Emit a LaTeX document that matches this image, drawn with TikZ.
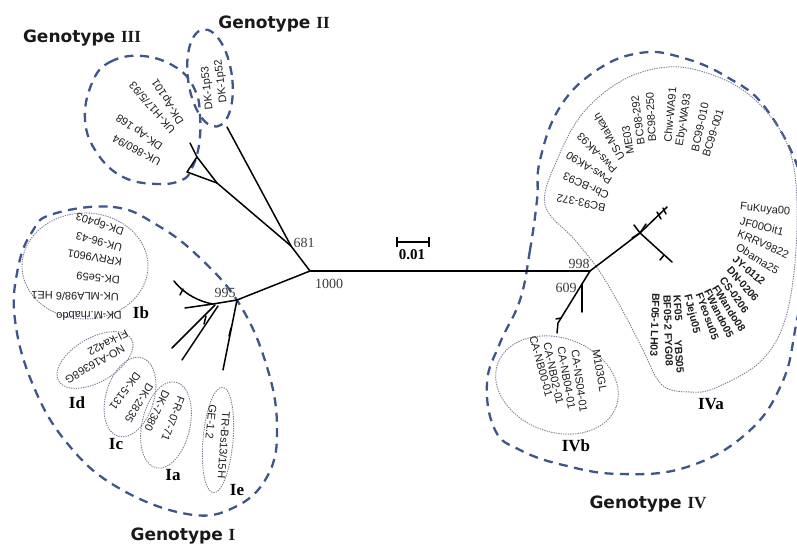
\documentclass[tikz,border=0pt]{standalone}
\usepackage{fontspec}
\setmainfont{Liberation Serif}
\setsansfont{Liberation Sans}
\newfontfamily\genofamily{DejaVu Sans}
\definecolor{dashblue}{RGB}{62,86,140}
\definecolor{dotgray}{RGB}{120,124,150}
\definecolor{bootgray}{RGB}{60,60,60}
\definecolor{tipcol}{RGB}{30,30,30}
\begin{document}
\begin{tikzpicture}[x=1pt,y=-1pt,
  br/.style={line width=1.5pt, line cap=round, line join=round, black},
  gdash/.style={draw=dashblue, line width=2.3pt, dash pattern=on 9pt off 6.5pt},
  sdot/.style={draw=dotgray, line width=0.9pt, dash pattern=on 1.3pt off 1.1pt},
  tip/.style={font=\sffamily\fontsize{11}{12}\selectfont, inner sep=0pt, text=tipcol},
  tipb/.style={font=\sffamily\bfseries\fontsize{10.5}{12}\selectfont, inner sep=0pt, text=tipcol},
  boot/.style={font=\rmfamily\fontsize{14}{16}\selectfont, text=bootgray, inner sep=0pt},
  sub/.style={font=\rmfamily\bfseries\fontsize{17}{19}\selectfont, inner sep=0pt},
  geno/.style={font=\genofamily\bfseries\fontsize{17}{20}\selectfont, inner sep=0pt, text=black!90}
]
\path[use as bounding box] (0,0) rectangle (797,548);
\clip (0,0) rectangle (797,548);

% ---------------- group outlines ----------------
\draw[gdash] plot[smooth cycle, tension=0.7] coordinates {(92,83) (110,62) (143,56) (177,68) (195,90) (200,115) (199,145) (192,168) (182,180) (157,184) (123,177) (97,153) (85,120)};
\draw[gdash, rotate around={8:(210,78)}] (210,78) ellipse [x radius=22pt, y radius=49pt];
\draw[gdash] plot[smooth cycle, tension=0.7] coordinates {(53,214) (113,207) (157,225) (200,258) (240,305) (267,367) (277,427) (268,475) (235,507) (187,514) (117,487) (67,443) (33,385) (15,320) (18,268) (32,232)};
\draw[gdash] plot[smooth cycle, tension=0.7] coordinates {(537,200) (530,250) (520,300) (500,343) (487,383) (495,430) (520,450) (563,465) (620,474) (687,467) (747,433) (782,383) (796,325) (808,250) (802,180) (767,110) (727,77) (680,57) (640,53) (597,70) (560,107) (540,160)};

\draw[sdot] (85,266) ellipse [x radius=63pt, y radius=53pt];
\draw[sdot, rotate around={30:(95,360)}] (95,360) ellipse [x radius=42pt, y radius=22pt];
\draw[sdot, rotate around={-17:(130,397)}] (130,397) ellipse [x radius=24pt, y radius=41pt];
\draw[sdot, rotate around={-13:(166,425)}] (166,425) ellipse [x radius=24pt, y radius=44pt];
\draw[sdot, rotate around={-5:(218,440)}] (218,440) ellipse [x radius=15pt, y radius=53pt];
\draw[sdot, rotate around={-20:(557,385)}] (557,385) ellipse [x radius=63pt, y radius=47pt];
\draw[sdot] plot[smooth cycle, tension=0.6] coordinates {(545,205) (557,160) (583,113) (623,80) (667,67) (707,73) (747,93) (780,130) (795,175) (796,250) (785,320) (760,362) (715,388) (690,392) (662,385) (643,350) (625,315) (600,272) (575,240)};

% ---------------- tree ----------------
\coordinate (root) at (310,271);
\coordinate (n998) at (590,271);
\coordinate (n681) at (291,246);
\coordinate (tII) at (227,127);
\coordinate (n3) at (217,183);
\coordinate (n3b) at (197,157);
\coordinate (t3a) at (190,143);
\coordinate (t3c) at (187,172);
\coordinate (n995) at (237,300);
\coordinate (n1a) at (213,304);
\coordinate (t1a) at (174,281);
\coordinate (t1b) at (185,308);
\coordinate (n1c) at (215,305);
\coordinate (t1c) at (172,348);
\coordinate (n1d) at (218,306);
\coordinate (t1d) at (182,360);
\coordinate (t1e) at (223,370);
\coordinate (n4) at (640,233);
\coordinate (t4a) at (667,207);
\coordinate (t4b) at (672,262);
\coordinate (n609) at (582,284);
\coordinate (t4c) at (558,323);
\coordinate (t4cc) at (557,333);
\coordinate (t4d) at (582,312);

\draw[br] (root) -- (n998);
\draw[br] (root) -- (n681);
\draw[br] (n681) -- (tII);
\draw[br] (n681) -- (n3);
\draw[br] (n3) -- (n3b) -- (t3a);
\draw[br] (n3) -- (t3c) -- (n3b);
\draw[br] (root) -- (n995);
\draw[br] (n995) -- (n1a);
\draw[br] (n1a) .. controls (200,302) and (184,294) .. (t1a);
\draw[br] (n1a) -- (t1b);
\draw[br] (n1c) -- (t1c);
\draw[br] (n1d) -- (t1d);
\draw[br] (n995) -- (t1e);
\coordinate (k1a) at (183,289); \coordinate (k1b) at (180,295);
\draw[br] (k1a) -- (k1b);
\coordinate (k2a) at (204,324); \coordinate (k2b) at (206,316);
\draw[br] (k2a) -- (k2b);
\coordinate (k3a) at (229,336); \coordinate (k3b) at (231,328);
\draw[br] (k3a) -- (k3b);

\draw[br] (n998) -- (n4);
\draw[br] (n4) -- (t4a);
\draw[br] (n4) -- (t4b);
\draw[br] (n998) -- (n609) -- (t4c) -- (t4cc);
\draw[br] (n609) -- (t4d);
\coordinate (k4a) at (634,225); \coordinate (k4b) at (646,224); \coordinate (k4c) at (632,238);
\draw[br] (n4) -- (k4a); \draw[br] (n4) -- (k4b); \draw[br] (n4) -- (k4c);
\coordinate (k5a) at (657,212); \coordinate (k5b) at (661,219);
\draw[br] (k5a) -- (k5b);
\coordinate (k6a) at (663,208); \coordinate (k6b) at (666,214);
\draw[br] (k6a) -- (k6b);
\coordinate (k7a) at (664,255); \coordinate (k7b) at (660,260);
\draw[br] (k7a) -- (k7b);
\coordinate (k8a) at (561,318); \coordinate (k8b) at (556,319);
\draw[br] (k8a) -- (k8b);

% scale bar
\coordinate (sbL) at (397,242); \coordinate (sbR) at (429,242);
\coordinate (sbLt) at (397,237); \coordinate (sbLb) at (397,247);
\coordinate (sbRt) at (429,237); \coordinate (sbRb) at (429,247);
\draw[line width=1.3pt] (sbL) -- (sbR);
\draw[line width=1.3pt] (sbLt) -- (sbLb);
\draw[line width=1.3pt] (sbRt) -- (sbRb);
\node[font=\rmfamily\bfseries\fontsize{15}{17}\selectfont, inner sep=0pt] (scl) at (412,255) {0.01};

% bootstrap values
\node[boot] (b681) at (304,243) {681};
\node[boot] (b1000) at (329,284) {1000};
\node[boot] (b995) at (225,293) {995};
\node[boot] (b998) at (579,264) {998};
\node[boot] (b609) at (566,288) {609};

% ---------------- tip labels ----------------
% Genotype III
\node[tip, anchor=west, rotate=122] (l3a) at (182,123) {DK-Ap101};
\node[tip, anchor=west, rotate=131] (l3b) at (173,132) {UK-H17/5/93};
\node[tip, anchor=west, rotate=145] (l3c) at (162,147) {DK-Ap 168};
\node[tip, anchor=west, rotate=152] (l3d) at (160,163) {UK-860/94};
% Genotype II
\node[tip, anchor=west, rotate=96] (l2a) at (210,110) {DK-1p53};
\node[tip, anchor=west, rotate=97] (l2b) at (224,103) {DK-1p52};
% Ib
\node[tip, anchor=west, rotate=162] (lb1) at (124,231) {DK-6p403};
\node[tip, anchor=west, rotate=165] (lb2) at (122,248) {UK-96-43};
\node[tip, anchor=west, rotate=171] (lb3) at (122,262) {KRRV9601};
\node[tip, anchor=west, rotate=175] (lb4) at (120,280) {DK-5e59};
\node[tip, anchor=west, rotate=179] (lb5) at (119,297) {UK-MLA98/6 HE1};
\node[tip, anchor=west, rotate=181] (lb6) at (122,315) {DK-M.rhabdo};
% Id
\node[tip, rotate=207] (ld1) at (108,343) {FI-ka422};
\node[tip, rotate=210] (ld2) at (95,364) {NO-A16368G};
% Ic
\node[tip, rotate=233] (lc1) at (125,391) {DK-5131};
\node[tip, rotate=238] (lc2) at (139,403) {DK-2835};
% Ia
\node[tip, rotate=249] (la1) at (173,419) {FR-07-71};
\node[tip, rotate=244] (la2) at (157,411) {DK-7380};
% Ie
\node[tip, rotate=266] (le1) at (224,445) {TR-Bs13/15H};
\node[tip, rotate=264] (le2) at (211,422) {GE-1.2};
% Genotype IV top fan
\node[tip, rotate=168] (f1) at (581,203) {BC93-372};
\node[tip, rotate=156] (f2) at (586,186) {Cbr-BC93};
\node[tip, rotate=148] (f3) at (589,168) {Pws-AK90};
\node[tip, rotate=135] (f4) at (597,153) {Pws-AK93};
\node[tip, rotate=120] (f5) at (609,137) {US-Makah};
\node[tip, rotate=100] (f6) at (628,140) {ME03};
\node[tip, rotate=97] (f7) at (638,120) {BC98-292};
\node[tip, rotate=93] (f8) at (651,117) {BC98-250};
\node[tip, rotate=85] (f9) at (670,115) {Chw-WA91};
\node[tip, rotate=81] (f10) at (684,120) {Eby-WA93};
\node[tip, rotate=78] (f11) at (700,127) {BC99-010};
\node[tip, rotate=73] (f12) at (713,133) {BC99-001};
% IVa right cluster
\node[tip, anchor=west, rotate=-6] (r1) at (740,207) {FuKuya00};
\node[tip, anchor=west, rotate=-14] (r2) at (740,221) {JF00Oit1};
\node[tip, anchor=west, rotate=-24] (r3) at (738,233) {KRRV9822};
\node[tip, anchor=west, rotate=-32] (r4) at (737,246) {Obama25};
\node[tipb, anchor=west, rotate=-40] (r5) at (734,258) {JY-0112};
\node[tipb, anchor=west, rotate=-49] (r6) at (729,268) {DN-0206};
\node[tipb, anchor=west, rotate=-54] (r7) at (722,278) {CS-0206};
\node[tipb, anchor=west, rotate=-58] (r8) at (715,286) {FWando08};
\node[tipb, anchor=west, rotate=-63] (r9) at (707,290) {FWando05};
\node[tipb, anchor=west, rotate=-70] (r10) at (699,293) {FYeosu05};
\node[tipb, anchor=west, rotate=-76] (r11) at (687,295) {FJeju05};
\node[tipb, anchor=west, rotate=-86] (r12) at (677,295) {KF05};
\node[tipb, anchor=west, rotate=-86] (r13) at (678,340) {YBS05};
\node[tipb, anchor=west, rotate=-88] (r14) at (667,295) {BF05-2 FYG08};
\node[tipb, anchor=west, rotate=-92] (r15) at (656,293) {BF05-1 LH03};
% IVb
\node[tip, anchor=west, rotate=-80] (v1) at (596,350) {M103GL};
\node[tip, anchor=west, rotate=-82] (v2) at (575,350) {CA-NS04-01};
\node[tip, anchor=west, rotate=-80] (v3) at (561,347) {CA-NB04-01};
\node[tip, anchor=west, rotate=-78] (v4) at (547,343) {CA-NB02-01};
\node[tip, anchor=west, rotate=-75] (v5) at (533,336) {CA-NB00-01};

% ---------------- subgroup labels ----------------
\node[sub] (sIb) at (141,313) {Ib};
\node[sub] (sId) at (77,403) {Id};
\node[sub] (sIc) at (116,444) {Ic};
\node[sub] (sIa) at (173,475) {Ia};
\node[sub] (sIe) at (237,490) {Ie};
\node[sub] (sIVa) at (711,404) {IVa};
\node[sub] (sIVb) at (576,446) {IVb};

% ---------------- genotype labels ----------------
\node[geno] (gIII) at (82,38) {Genotype {\rmfamily III}};
\node[geno] (gII) at (274,24) {Genotype {\rmfamily II}};
\node[geno] (gI) at (183,536) {Genotype {\rmfamily I}};
\node[geno] (gIV) at (648,504) {Genotype {\rmfamily IV}};
\end{tikzpicture}
\end{document}
